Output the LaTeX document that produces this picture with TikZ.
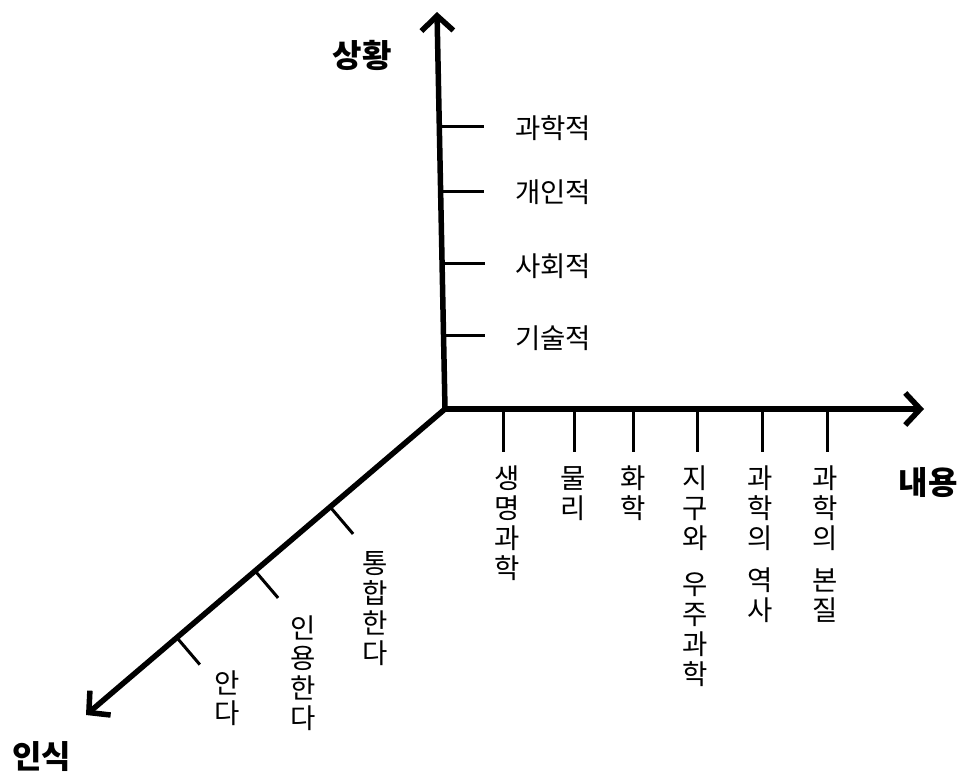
\documentclass[tikz,border=0pt]{standalone}
\usepackage{fontspec}
\setmainfont{Noto Sans CJK KR}
\usetikzlibrary{arrows.meta,calc}
\begin{document}
\begin{tikzpicture}[x=1pt,y=-1pt,
  axis/.style={line width=5.5pt, -{Straight Barb[length=15pt,width=32pt]}},
  tickline/.style={line width=3pt},
  lab/.style={font=\fontsize{27.5}{30}\selectfont, inner sep=0pt},
  hlab/.style={lab, anchor=west},
  vlab/.style={lab, align=center, anchor=north},
  axtitle/.style={font=\fontsize{32}{36}\selectfont\bfseries, inner sep=0pt}]
\useasboundingbox (0,0) rectangle (969,780);
% axes
\coordinate (O) at (445,409);
\coordinate (Top) at (437,12);
\coordinate (Right) at (924,409);
\coordinate (Left) at (86,715);
\draw[axis] (O) -- (Top);
\draw[axis] (O) -- (Right);
\draw[axis] (O) -- (Left);
% vertical ticks
\coordinate (v1) at (439.3,126); \coordinate (v1e) at (484,126);
\coordinate (v2) at (440.6,191); \coordinate (v2e) at (484,191);
\coordinate (v3) at (442.1,263); \coordinate (v3e) at (485,263);
\coordinate (v4) at (443.5,335); \coordinate (v4e) at (485,335);
\draw[tickline] (v1) -- (v1e);
\draw[tickline] (v2) -- (v2e);
\draw[tickline] (v3) -- (v3e);
\draw[tickline] (v4) -- (v4e);
\node[hlab] (l1) at (515,128) {과학적};
\node[hlab] (l2) at (515,192) {개인적};
\node[hlab] (l3) at (515,266) {사회적};
\node[hlab] (l4) at (515,338) {기술적};
% horizontal ticks
\foreach \i/\x in {1/503,2/574,3/633,4/697,5/762,6/827}{
  \coordinate (h\i) at (\x,409);
  \coordinate (h\i e) at (\x,452);
  \draw[tickline] (h\i) -- (h\i e);
}
\node[vlab] (c1) at (507,466) {생\\명\\과\\학};
\node[vlab] (c2) at (573,466) {물\\리};
\node[vlab] (c3) at (633,466) {화\\학};
\node[vlab] (c4) at (695,466) {지\\구\\와\\[16pt]우\\주\\과\\학};
\node[vlab] (c5) at (760,466) {과\\학\\의\\[12pt]역\\사};
\node[vlab] (c6) at (825,466) {과\\학\\의\\[12pt]본\\질};
% diagonal ticks
\coordinate (d1) at ($(O)!0.32!(Left)$);
\coordinate (d2) at ($(O)!0.529!(Left)$);
\coordinate (d3) at ($(O)!0.747!(Left)$);
\coordinate (d1e) at ($(d1)+(23,27)$);
\coordinate (d2e) at ($(d2)+(23,27)$);
\coordinate (d3e) at ($(d3)+(23,27)$);
\draw[tickline] (d1) -- (d1e);
\draw[tickline] (d2) -- (d2e);
\draw[tickline] (d3) -- (d3e);
\node[vlab] (k1) at (375,551) {통\\합\\한\\다};
\node[vlab] (k2) at (303,616) {인\\용\\한\\다};
\node[vlab] (k3) at (227,671) {안\\다};
% titles
\node[axtitle] (t1) at (362,55) {상황};
\node[axtitle] (t2) at (928,483) {내용};
\node[axtitle] (t3) at (42,757) {인식};
\end{tikzpicture}
\end{document}
